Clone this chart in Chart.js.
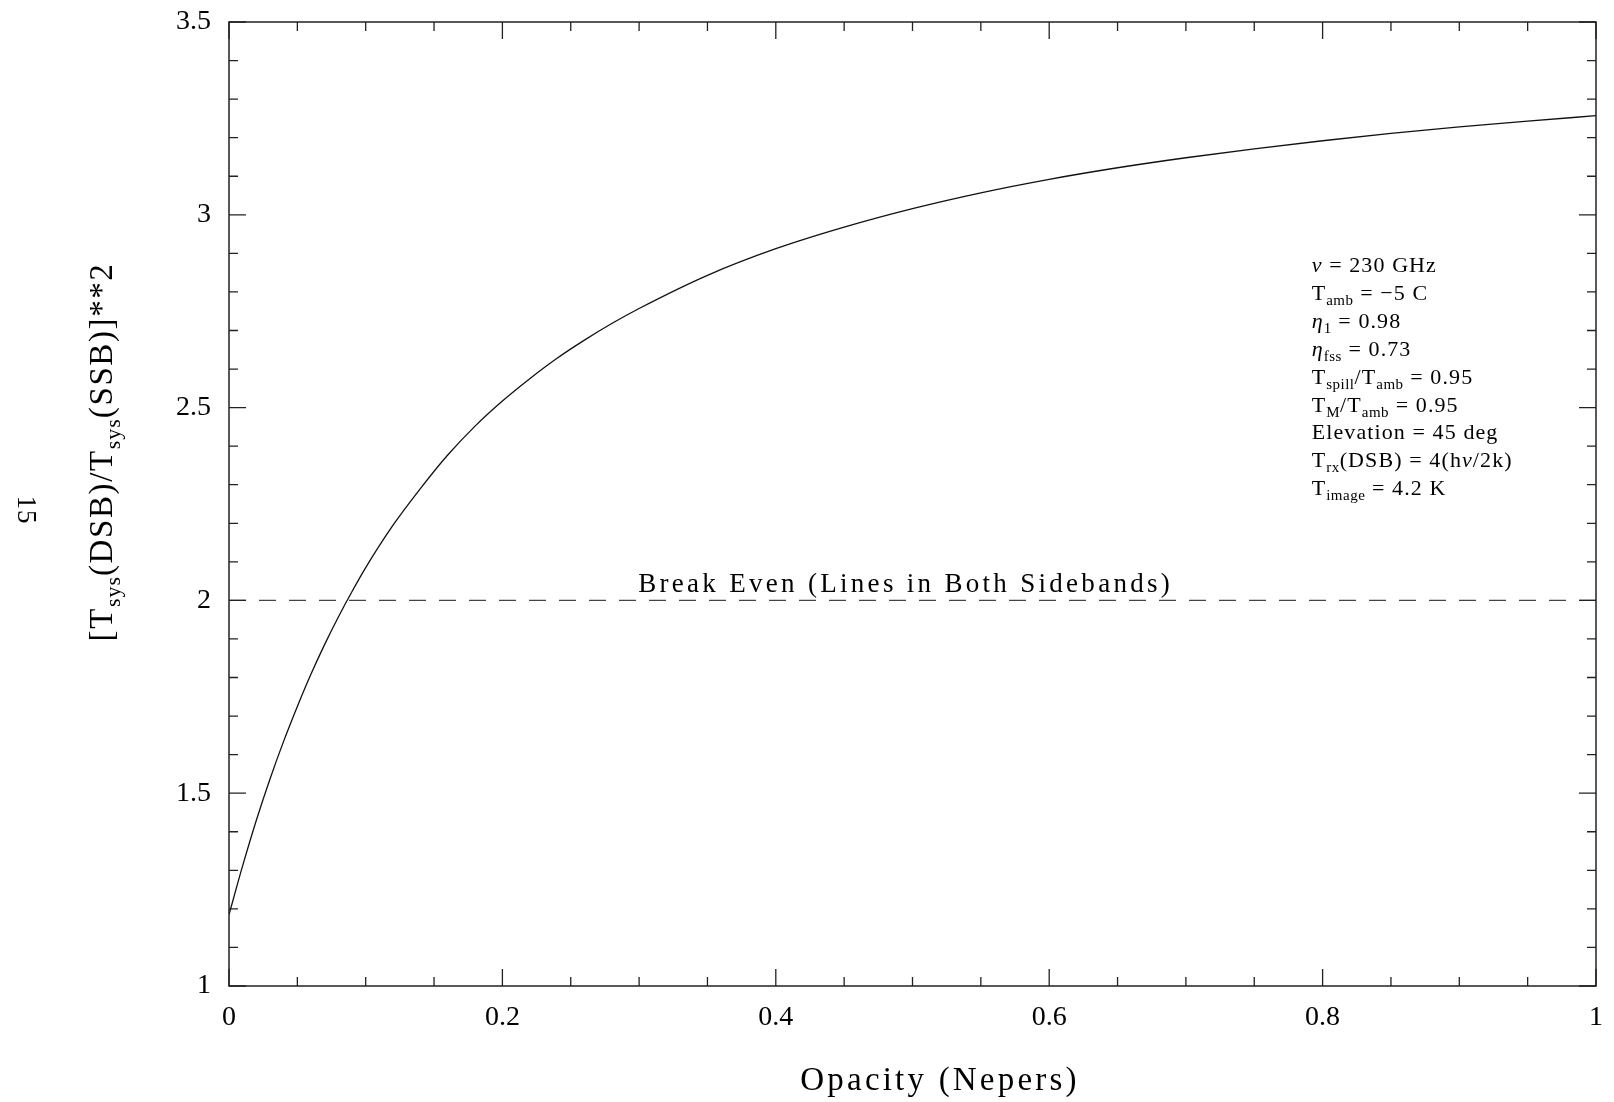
<!DOCTYPE html>
<html>
<head>
<meta charset="utf-8">
<script src="https://cdn.jsdelivr.net/npm/chart.js@4.4.1/dist/chart.umd.min.js"></script>
<style>
  html, body { margin: 0; padding: 0; background: #fff; }
  #wrap { width: 1614px; height: 1102px; position: relative; }
</style>
</head>
<body>
<div id="wrap"><canvas id="ratio"></canvas></div>
<script>
// opacity in nepers and the squared DSB/SSB system temperature ratio
const opacity = [0, 0.01, 0.02, 0.03, 0.04, 0.05, 0.06, 0.07, 0.08, 0.09, 0.10,
  0.12, 0.14, 0.16, 0.18, 0.20, 0.22, 0.24, 0.26, 0.28, 0.30, 0.35, 0.40, 0.45, 0.50,
  0.55, 0.60, 0.65, 0.70, 0.75, 0.80, 0.85, 0.90, 0.95, 1.00];
const ratioSq = [1.185, 1.312, 1.43, 1.537, 1.635, 1.725, 1.809, 1.886, 1.957, 2.023, 2.085,
  2.195, 2.29, 2.377, 2.452, 2.517, 2.575, 2.628, 2.675, 2.718, 2.757, 2.843, 2.912, 2.968, 3.016,
  3.057, 3.092, 3.122, 3.148, 3.171, 3.192, 3.211, 3.228, 3.243, 3.257];

const breakEven = 2;
const xRange = [0, 1];
const yRange = [1, 3.5];

// model parameters listed on the plot, as [text, kind] runs
const infoLines = [
  [['ν', 'it'], [' = 230 GHz']],
  [['T'], ['amb', 'sub'], [' = −5 C']],
  [['η', 'it'], ['1', 'sub'], [' = 0.98']],
  [['η', 'it'], ['fss', 'sub'], [' = 0.73']],
  [['T'], ['spill', 'sub'], ['/T'], ['amb', 'sub'], [' = 0.95']],
  [['T'], ['M', 'sub'], ['/T'], ['amb', 'sub'], [' = 0.95']],
  [['Elevation = 45 deg']],
  [['T'], ['rx', 'sub'], ['(DSB) = 4(h'], ['ν', 'it'], ['/2k)']],
  [['T'], ['image', 'sub'], [' = 4.2 K']]
];
const yTitle = [['['], ['T'], ['sys', 'sub'], ['(DSB)/T'], ['sys', 'sub'], ['(SSB)]**2']];
const xTitle = [['Opacity (Nepers)']];
const breakEvenLabel = [['Break Even (Lines in Both Sidebands)']];
const pageNumber = [['15']];

const FONT = '"Liberation Serif", "DejaVu Serif", serif';

function setFont(ctx, size, italic) {
  ctx.font = (italic ? 'italic ' : '') + size + 'px ' + FONT;
}

function runWidth(ctx, parts, st) {
  let w = 0;
  for (const [t, kind] of parts) {
    const sub = kind === 'sub';
    setFont(ctx, sub ? st.subSize : st.size, kind === 'it');
    ctx.letterSpacing = (sub ? st.subSpacing : st.spacing) + 'px';
    w += ctx.measureText(t).width;
  }
  return w;
}

// text with subscripts, optionally rotated about its anchor
function drawRun(ctx, parts, x, y, st, align) {
  ctx.save();
  ctx.translate(x, y);
  if (st.rotate) ctx.rotate(st.rotate);
  let cx = align === 'center' ? -runWidth(ctx, parts, st) / 2 : 0;
  ctx.textAlign = 'left';
  ctx.textBaseline = 'alphabetic';
  ctx.fillStyle = '#000';
  for (const [t, kind] of parts) {
    const sub = kind === 'sub';
    setFont(ctx, sub ? st.subSize : st.size, kind === 'it');
    ctx.letterSpacing = (sub ? st.subSpacing : st.spacing) + 'px';
    ctx.fillText(t, cx, sub ? st.subDrop : 0);
    cx += ctx.measureText(t).width;
  }
  ctx.restore();
}

// boxed frame with inward major/minor ticks on all four sides, plus the labels
const framePlot = {
  id: 'framePlot',
  afterDatasetsDraw(chart) {
    const { ctx, chartArea: a, scales: { x, y } } = chart;
    ctx.save();
    ctx.strokeStyle = '#222';
    ctx.lineWidth = 1.5;
    ctx.strokeRect(a.left, a.top, a.right - a.left, a.bottom - a.top);

    ctx.lineWidth = 1.3;
    ctx.beginPath();
    for (let i = 0; i <= 20; i++) {
      const px = x.getPixelForValue(xRange[0] + i * 0.05);
      const len = i % 4 === 0 ? 17 : 9;
      ctx.moveTo(px, a.bottom); ctx.lineTo(px, a.bottom - len);
      ctx.moveTo(px, a.top); ctx.lineTo(px, a.top + len);
    }
    for (let i = 0; i <= 25; i++) {
      const py = y.getPixelForValue(yRange[0] + i * 0.1);
      const len = i % 5 === 0 ? 17 : 9;
      ctx.moveTo(a.left, py); ctx.lineTo(a.left + len, py);
      ctx.moveTo(a.right, py); ctx.lineTo(a.right - len, py);
    }
    ctx.stroke();
    ctx.restore();

    drawRun(ctx, breakEvenLabel, x.getPixelForValue(0.495), y.getPixelForValue(breakEven) - 8,
      { size: 27, spacing: 3.3 }, 'center');

    const info = { size: 22, spacing: 1.1, subSize: 15, subSpacing: 0.5, subDrop: 5 };
    infoLines.forEach((line, i) => {
      drawRun(ctx, line, x.getPixelForValue(0.792), 272 + i * 27.9, info, 'left');
    });

    drawRun(ctx, xTitle, 940, 1090, { size: 33, spacing: 3.2 }, 'center');
    drawRun(ctx, yTitle, 112, 452,
      { size: 33, spacing: 1.6, subSize: 22, subSpacing: 1, subDrop: 8, rotate: -Math.PI / 2 }, 'center');
    drawRun(ctx, pageNumber, 18, 510, { size: 27, spacing: 1, rotate: Math.PI / 2 }, 'center');
  }
};

const tickFont = { family: FONT, size: 28 };
const plainNumber = v => String(parseFloat(Number(v).toFixed(3)));

// keep the plot box exactly where the layout padding puts it
function noEdgePadding(s) {
  s.paddingTop = 0;
  s.paddingBottom = 0;
  s.paddingLeft = 0;
  s.paddingRight = 0;
}

new Chart(document.getElementById('ratio'), {
  type: 'line',
  data: {
    datasets: [
      {
        data: opacity.map((v, i) => ({ x: v, y: ratioSq[i] })),
        borderColor: '#111',
        borderWidth: 1.3,
        pointRadius: 0,
        cubicInterpolationMode: 'monotone'
      },
      {
        data: [{ x: xRange[0], y: breakEven }, { x: xRange[1], y: breakEven }],
        borderColor: '#444',
        borderWidth: 1.3,
        borderDash: [17, 13],
        pointRadius: 0
      }
    ]
  },
  options: {
    responsive: true,
    maintainAspectRatio: false,
    animation: false,
    events: [],
    layout: { padding: { top: 22, right: 18, left: 0, bottom: 0 } },
    plugins: { legend: { display: false }, tooltip: { enabled: false } },
    scales: {
      x: {
        type: 'linear',
        min: xRange[0],
        max: xRange[1],
        grid: { display: false, drawTicks: false },
        border: { display: false },
        ticks: { stepSize: 0.2, padding: 15, color: '#000', font: tickFont, maxRotation: 0, callback: plainNumber },
        afterFit(s) { s.height = 116; noEdgePadding(s); }
      },
      y: {
        type: 'linear',
        min: yRange[0],
        max: yRange[1],
        grid: { display: false, drawTicks: false },
        border: { display: false },
        ticks: { stepSize: 0.5, padding: 18, color: '#000', font: tickFont, callback: plainNumber },
        afterFit(s) { s.width = 229; noEdgePadding(s); }
      }
    }
  },
  plugins: [framePlot]
});
</script>
</body>
</html>
